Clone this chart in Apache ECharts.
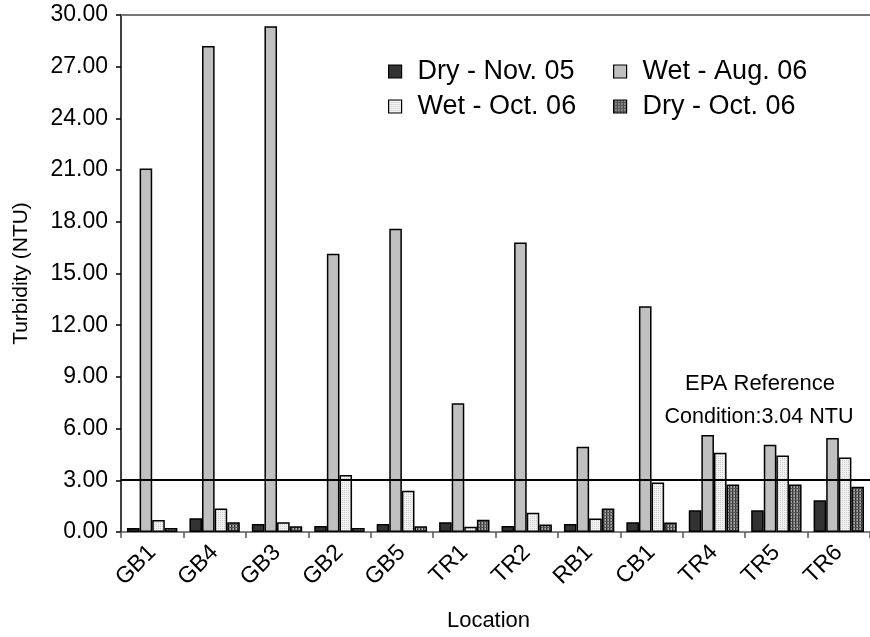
<!DOCTYPE html>
<html>
<head>
<meta charset="utf-8">
<script src="https://cdn.jsdelivr.net/npm/echarts@6/dist/echarts.min.js"></script>
<style>
  html, body { margin: 0; padding: 0; background: #fff; }
  #chart { width: 870px; height: 637px; }
</style>
</head>
<body>
<div id="chart"></div>
<script>
const categories = ['GB1','GB4','GB3','GB2','GB5','TR1','TR2','RB1','CB1','TR4','TR5','TR6'];
const seriesNames = ['Dry - Nov. 05','Wet - Aug. 06','Wet - Oct. 06','Dry - Oct. 06'];
const dryNov05 = [0.23, 0.80, 0.46, 0.35, 0.46, 0.57, 0.35, 0.46, 0.57, 1.26, 1.26, 1.84];
const wetAug06 = [21.1, 28.2, 29.35, 16.15, 17.6, 7.47, 16.8, 4.94, 13.1, 5.63, 5.06, 5.46];
const wetOct06 = [0.69, 1.36, 0.56, 3.31, 2.40, 0.31, 1.11, 0.79, 2.87, 4.60, 4.44, 4.33];
const dryOct06 = [0.23, 0.56, 0.33, 0.23, 0.33, 0.71, 0.44, 1.36, 0.55, 2.76, 2.76, 2.62];
const epaReference = 3.04;
const yTicks = { min: 0, max: 30, interval: 3 };

function makePattern(kind) {
  const c = document.createElement('canvas');
  if (kind === 'dots') {
    c.width = 4; c.height = 4;
    const g = c.getContext('2d');
    g.fillStyle = '#f2f2f2'; g.fillRect(0, 0, 4, 4);
    g.fillStyle = '#cdcdcd';
    g.fillRect(0, 0, 1, 1); g.fillRect(2, 2, 1, 1);
    g.fillRect(2, 0, 1, 1); g.fillRect(0, 2, 1, 1);
  } else {
    c.width = 3; c.height = 3;
    const g = c.getContext('2d');
    g.fillStyle = '#7a7a7a'; g.fillRect(0, 0, 3, 3);
    g.fillStyle = '#333333';
    g.fillRect(0, 0, 1, 3);
    g.fillStyle = '#a8a8a8';
    g.fillRect(2, 0, 1, 3);
    g.fillStyle = '#555555';
    g.fillRect(0, 2, 3, 1);
  }
  return { image: c, repeat: 'repeat' };
}

const fills = ['#333333', '#c0c0c0', makePattern('dots'), makePattern('stripes')];
const dataSets = [dryNov05, wetAug06, wetOct06, dryOct06];

const FONT = 'Liberation Sans, Arial, sans-serif';

const series = seriesNames.map((name, i) => ({
  name: name,
  type: 'bar',
  data: dataSets[i],
  barWidth: 12.6,
  barGap: '0%',
  itemStyle: { color: fills[i], borderColor: '#000', borderWidth: 1.5 },
  emphasis: { disabled: true },
  z: 2
}));
series[0].markLine = {
  silent: true,
  symbol: 'none',
  label: { show: false },
  lineStyle: { color: '#000', width: 2, type: 'solid' },
  data: [{ yAxis: epaReference }],
  z: 5
};

const legendPos = [[388, 58], [613, 58], [388, 93], [613, 93]];
const legends = seriesNames.map((name, i) => ({
  data: [{ name: name, icon: 'rect' }],
  left: legendPos[i][0],
  top: legendPos[i][1],
  padding: 0,
  itemWidth: 13,
  itemHeight: 13,
  selectedMode: false,
  itemStyle: { borderColor: '#000', borderWidth: 1.2 },
  textStyle: { fontFamily: FONT, fontSize: 27, color: '#000', padding: [0, 0, 0, 11] }
}));

const chart = echarts.init(document.getElementById('chart'), null, { renderer: 'canvas' });
chart.setOption({
  animation: false,
  backgroundColor: '#fff',
  grid: { left: 121, right: -11, top: 15, bottom: 101, containLabel: false },
  legend: legends,
  xAxis: [{
    type: 'category',
    data: categories,
    position: 'bottom',
    axisLine: { show: true, lineStyle: { color: '#555', width: 1.5 } },
    axisTick: { show: true, interval: 0, length: 6, lineStyle: { color: '#555', width: 1.5 } },
    axisLabel: { interval: 0, rotate: 45, fontSize: 23, fontFamily: FONT, color: '#000', margin: 17 },
    name: 'Location',
    nameLocation: 'middle',
    nameGap: 78,
    nameTextStyle: { fontSize: 22, fontFamily: FONT, color: '#000', padding: [0, 14, 0, 0] }
  }, {
    type: 'category',
    data: categories,
    position: 'top',
    axisLine: { show: true, lineStyle: { color: '#777', width: 2 } },
    axisTick: { show: false },
    axisLabel: { show: false }
  }],
  yAxis: {
    type: 'value',
    min: yTicks.min,
    max: yTicks.max,
    interval: yTicks.interval,
    axisLine: { show: true, lineStyle: { color: '#000', width: 1.5 } },
    axisTick: { show: true, length: 5, lineStyle: { color: '#000', width: 1.5 } },
    splitLine: { show: false },
    axisLabel: {
      fontSize: 23, fontFamily: FONT, color: '#000', margin: 13,
      formatter: v => v.toFixed(2)
    },
    name: 'Turbidity (NTU)',
    nameLocation: 'middle',
    nameGap: 89,
    nameTextStyle: { fontSize: 21, fontFamily: FONT, color: '#000' }
  },
  graphic: [{
    type: 'text',
    x: 760, y: 373,
    style: { text: 'EPA Reference', font: '22px ' + FONT, fill: '#000', textAlign: 'center' }
  }, {
    type: 'text',
    x: 759, y: 406,
    style: { text: 'Condition:3.04 NTU', font: '21.5px ' + FONT, fill: '#000', textAlign: 'center' }
  }],
  series: series
});
</script>
</body>
</html>
